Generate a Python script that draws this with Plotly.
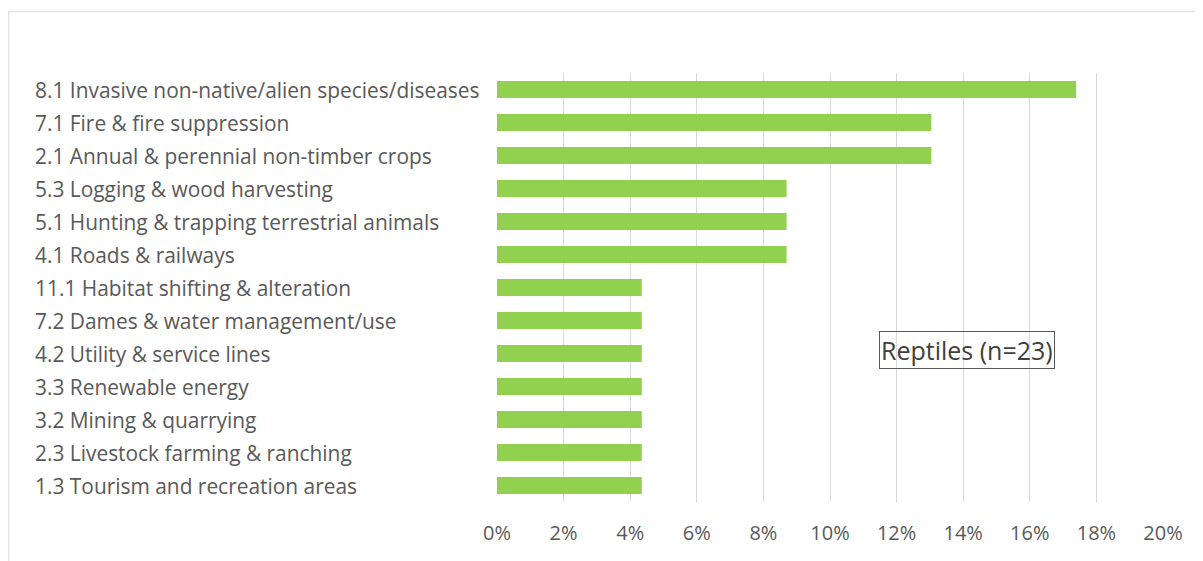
import plotly.graph_objects as go

categories = [
    "8.1 Invasive non-native/alien species/diseases",
    "7.1 Fire & fire suppression",
    "2.1 Annual & perennial non-timber crops",
    "5.3 Logging & wood harvesting",
    "5.1 Hunting & trapping terrestrial animals",
    "4.1 Roads & railways",
    "11.1 Habitat shifting & alteration",
    "7.2 Dames & water management/use",
    "4.2 Utility & service lines",
    "3.3 Renewable energy",
    "3.2 Mining & quarrying",
    "2.3 Livestock farming & ranching",
    "1.3 Tourism and recreation areas",
]
counts = [4, 3, 3, 2, 2, 2, 1, 1, 1, 1, 1, 1, 1]
n_total = 23
values = [c / n_total for c in counts]
tick_vals = [i / 100 for i in range(0, 21, 2)]
tick_text = [f"{i}%" for i in range(0, 21, 2)]
label_text = "Reptiles (n=23)"

# page has an 8px body margin; figure sized to fit the 1203x561 window
OFF = 8
W, H = 1203 - OFF, 561 - OFF
L, R, T, B = 497 - OFF, 1203 - 1163, 73 - OFF, 561 - 502
pw, ph = W - L - R, H - T - B

FONT = "Open Sans"
GRAY = "#595959"

fig = go.Figure(go.Bar(
    y=categories, x=values, orientation="h",
    marker=dict(color="#92D050", line=dict(width=0)),
    width=0.52,
))

annotations = []
for c in categories:
    annotations.append(dict(
        x=(33 - OFF - L) / pw, xref="paper", y=c, yref="y",
        text=c, showarrow=False, xanchor="left", yanchor="middle",
        font=dict(family=FONT, size=20.9, color=GRAY),
    ))
annotations.append(dict(
    x=(966.5 - 497) / 666, xref="paper", y=(502 - 350) / 429, yref="paper",
    text=label_text, showarrow=False, xanchor="center", yanchor="middle",
    font=dict(family=FONT, size=25, color="#404040"),
    bordercolor="#595959", borderwidth=1, borderpad=1,
))

top_y = (H - B - (11.5 - OFF)) / ph
left_x = (7.5 - OFF - L) / pw
fig.update_layout(
    width=W, height=H,
    margin=dict(l=L, r=R, t=T, b=B),
    paper_bgcolor="white", plot_bgcolor="white",
    showlegend=False,
    xaxis=dict(
        range=[0, 0.2], tickvals=tick_vals, ticktext=tick_text,
        showgrid=True, gridcolor="#D9D9D9", gridwidth=1,
        zeroline=False, showline=False, ticks="",
        tickfont=dict(family=FONT, size=20, color=GRAY),
        ticklabelstandoff=17,
    ),
    yaxis=dict(
        categoryorder="array", categoryarray=categories[::-1],
        showticklabels=False, showgrid=False, zeroline=False, showline=False,
    ),
    annotations=annotations,
    shapes=[
        dict(type="line", xref="paper", yref="paper",
             x0=left_x, x1=(W + 5 - L) / pw, y0=top_y, y1=top_y,
             line=dict(color="#E3E3E3", width=1.5)),
        dict(type="line", xref="paper", yref="paper",
             x0=left_x + 1 / pw, x1=left_x + 1 / pw, y0=top_y, y1=-B / ph - 0.05,
             line=dict(color="#E3E3E3", width=1.5)),
    ],
)

fig.write_html("out.html")
